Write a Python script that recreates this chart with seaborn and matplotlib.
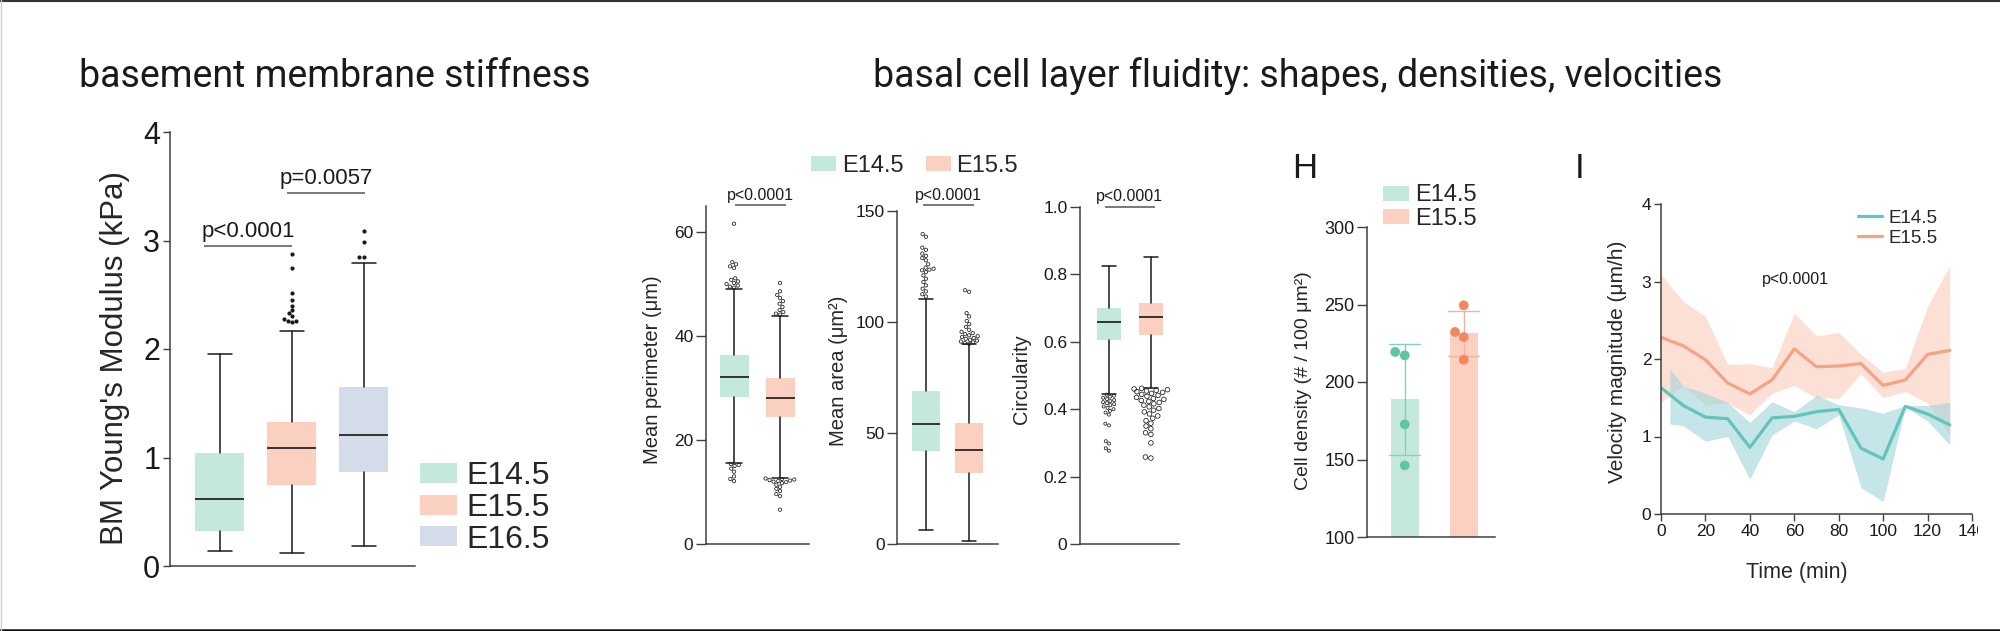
import matplotlib
import numpy as np
import pandas as pd
import seaborn as sns
from matplotlib import pyplot as plt
from matplotlib.lines import Line2D
from matplotlib.patches import Patch, Rectangle

matplotlib.use('agg')

FIG_W, FIG_H = 2000, 631
BODY_FONT = ['Liberation Sans', 'DejaVu Sans']
TITLE_FONT = ['Roboto', 'Liberation Sans', 'DejaVu Sans']

MINT = '#c4e9db'
SALMON = '#fbd0c1'
LAVENDER = '#d4dbe9'
INK = '#1a1a1a'
AXIS = '#404040'

# ---- BM stiffness (box summaries, kPa) ----
bm_stages = ['E14.5', 'E15.5', 'E16.5']
bm_whislo = [0.14, 0.12, 0.18]
bm_q1 = [0.32, 0.75, 0.87]
bm_med = [0.62, 1.085, 1.21]
bm_q3 = [1.04, 1.325, 1.65]
bm_whishi = [1.95, 2.17, 2.79]
bm_fliers_e14 = []
bm_fliers_e15 = [2.25, 2.26, 2.26, 2.28, 2.30, 2.33, 2.36, 2.40, 2.45, 2.52, 2.75, 2.88]
bm_fliers_e16 = [2.85, 2.85, 2.99, 3.09]

# ---- cell shape (box summaries) ----
shape_stages = ['E14.5', 'E15.5']
perim_whislo = [15.5, 12.7]
perim_q1 = [28.2, 24.4]
perim_med = [32.2, 28.1]
perim_q3 = [36.4, 32.0]
perim_whishi = [49.1, 43.9]
perim_fliers_e14 = [49.3, 49.5, 49.7, 50.0, 50.2, 50.5, 50.8, 51.1,
                    53.1, 53.4, 53.8, 54.2, 61.6,
                    15.4, 15.2, 15.0, 14.5, 13.9, 13.0, 12.5, 12.1]
perim_fliers_e15 = [44.1, 44.3, 44.6, 45.0, 45.6, 46.2, 46.7, 47.3, 47.9, 48.6, 50.2,
                    12.6, 12.5, 12.4, 12.3, 12.2, 12.1, 12.0, 11.9, 11.7, 11.4,
                    11.0, 10.6, 10.2, 9.6, 9.2, 6.6]

area_whislo = [6.3, 1.3]
area_q1 = [41.7, 31.8]
area_med = [54.0, 42.3]
area_q3 = [69.0, 54.4]
area_whishi = [110.3, 90.1]
area_fliers_e14 = [111.5, 112.5, 113.8, 115.0, 116.5, 118.0, 119.5, 121.0, 122.5, 123.3, 123.6,
                   124.0, 124.5, 126.0, 127.8, 128.8, 129.8, 130.8, 132.5, 133.5, 138.4, 139.6]
area_fliers_e15 = [90.2, 90.5, 90.8, 91.2, 91.6, 92.0, 92.4, 92.8, 93.2, 93.6, 94.0, 94.5,
                   95.0, 95.6, 96.5, 97.8, 99.0, 100.5, 102.5, 104.0, 113.6, 114.3]

circ_whislo = [0.445, 0.462]
circ_q1 = [0.605, 0.619]
circ_med = [0.659, 0.674]
circ_q3 = [0.700, 0.714]
circ_whishi = [0.824, 0.852]
circ_fliers_e14 = [0.443, 0.44, 0.437, 0.434, 0.43, 0.427, 0.424, 0.421, 0.418, 0.415, 0.412,
                   0.408, 0.404, 0.4, 0.395, 0.39, 0.384, 0.357, 0.352, 0.305, 0.298, 0.284,
                   0.277]
circ_fliers_e15 = [0.462, 0.46, 0.458, 0.456, 0.454, 0.452, 0.45, 0.447, 0.444, 0.441, 0.438,
                   0.435, 0.432, 0.429, 0.426, 0.423, 0.42, 0.416, 0.412, 0.407, 0.402, 0.397,
                   0.392, 0.386, 0.38, 0.373, 0.366, 0.358, 0.35, 0.342, 0.33, 0.325, 0.30,
                   0.258, 0.255]

# ---- cell density (per embryo) ----
density_e14 = [217.2, 219.4, 172.7, 146.2]
density_e15 = [249.5, 232.3, 229.0, 214.4]

# ---- velocity magnitude over time ----
time_min = [0, 10, 20, 30, 40, 50, 60, 70, 80, 90, 100, 110, 120, 130]
vel_e14 = [1.63, 1.40, 1.25, 1.23, 0.86, 1.24, 1.26, 1.32, 1.35, 0.85, 0.71, 1.39, 1.29, 1.15]
vel_e15 = [2.28, 2.17, 1.99, 1.69, 1.55, 1.73, 2.13, 1.90, 1.91, 1.94, 1.66, 1.73, 2.06, 2.11]
band_time_e14 = [4, 10, 20, 30, 40, 50, 60, 70, 80, 90, 100, 110, 120, 130]
band_hi_e14 = [1.88, 1.65, 1.56, 1.44, 1.18, 1.45, 1.32, 1.53, 1.41, 1.37, 1.30, 1.40, 1.40, 1.44]
band_lo_e14 = [1.16, 1.14, 0.94, 1.00, 0.45, 1.02, 1.20, 1.10, 1.28, 0.34, 0.16, 1.38, 1.20, 0.89]
band_time_e15 = [0, 10, 20, 30, 40, 50, 60, 70, 80, 90, 100, 110, 120, 130]
band_hi_e15 = [3.09, 2.74, 2.55, 1.93, 1.94, 1.89, 2.59, 2.30, 2.34, 2.06, 1.83, 1.88, 2.68, 3.20]
band_lo_e15 = [1.44, 1.65, 1.41, 1.43, 1.28, 1.56, 1.66, 1.50, 1.49, 1.81, 1.50, 1.58, 1.43, 1.02]

sns.set_theme(style='ticks')
plt.rcParams['font.family'] = BODY_FONT
plt.rcParams['axes.linewidth'] = 1.1

fig = plt.figure(figsize=(FIG_W / 100, FIG_H / 100), dpi=100)


def add_axes_px(left, top, right, bottom):
    return fig.add_axes([left / FIG_W, 1 - bottom / FIG_H,
                         (right - left) / FIG_W, (bottom - top) / FIG_H])


def style_axis(ax, labelsize, ticklen):
    sns.despine(ax=ax)
    for side in ['left', 'bottom']:
        ax.spines[side].set_color(AXIS)
        ax.spines[side].set_linewidth(1.1)
    ax.tick_params(axis='y', length=ticklen, width=1.0, color=AXIS,
                   labelsize=labelsize, labelcolor=INK, pad=2)
    ax.set_xticks([])
    ax.set_xlabel('')
    ax.grid(False)


def draw_boxes(ax, lo, q1, med, q3, hi, colors, width, capw):
    stats = [dict(whislo=a, q1=b, med=c, q3=d, whishi=e, fliers=[])
             for a, b, c, d, e in zip(lo, q1, med, q3, hi)]
    art = ax.bxp(stats, positions=list(range(len(stats))), widths=width, capwidths=capw,
                 patch_artist=True, showfliers=False, manage_ticks=False,
                 boxprops=dict(linewidth=0),
                 whiskerprops=dict(color=INK, linewidth=1.1),
                 capprops=dict(color=INK, linewidth=1.1),
                 medianprops=dict(color='#333333', linewidth=1.4))
    for patch, c in zip(art['boxes'], colors):
        patch.set_facecolor(c)
        patch.set_edgecolor(c)


def draw_fliers(ax, stages, groups, size, hollow):
    df = pd.DataFrame({'stage': np.repeat(stages, [len(g) for g in groups]),
                       'value': np.concatenate([np.asarray(g, float) for g in groups])})
    n0 = len(ax.collections)
    sns.swarmplot(data=df, x='stage', y='value', order=stages, color=INK, size=size,
                  edgecolor=INK, linewidth=0.55 if hollow else 0, ax=ax, zorder=5,
                  warn_thresh=1.0)
    if hollow:
        for coll in ax.collections[n0:]:
            coll.set_facecolor('none')


def bracket(ax, x0, x1, y, label, size, gap=2):
    ax.plot([x0, x1], [y, y], color='#555555', lw=1.1, clip_on=False,
            solid_capstyle='butt')
    ax.annotate(label, xy=((x0 + x1) / 2, y), xytext=(0, gap), textcoords='offset points',
                ha='center', va='bottom', fontsize=size, color=INK, annotation_clip=False)


# ---------------- panel: BM stiffness ----------------
ax_bm = add_axes_px(170, 132, 415, 566)
draw_boxes(ax_bm, bm_whislo, bm_q1, bm_med, bm_q3, bm_whishi,
           [MINT, SALMON, LAVENDER], 0.68, 0.33)
draw_fliers(ax_bm, bm_stages, [bm_fliers_e14, bm_fliers_e15, bm_fliers_e16], 3.0, False)
ax_bm.set_xlim(-0.69, 2.71)
ax_bm.set_ylim(0, 4)
ax_bm.set_yticks([0, 1, 2, 3, 4])
style_axis(ax_bm, 22, 5)
ax_bm.set_ylabel("BM Young's Modulus (kPa)", fontsize=22.5, va='center')
ax_bm.yaxis.set_label_coords(-0.224, 0.48)
bracket(ax_bm, -0.22, 1.0, 2.95, 'p<0.0001', 16, gap=3)
bracket(ax_bm, 0.94, 2.02, 3.44, 'p=0.0057', 16, gap=3)
ax_bm.legend([Patch(facecolor=c, edgecolor='none') for c in [MINT, SALMON, LAVENDER]],
             bm_stages, loc='center left', bbox_to_anchor=(420 / FIG_W, 1 - 508 / FIG_H),
             bbox_transform=fig.transFigure, frameon=False, fontsize=23,
             handlelength=1.15, handleheight=0.6, handletextpad=0.3,
             labelspacing=0.05, borderpad=0, borderaxespad=0)

# ---------------- panel: perimeter ----------------
ax_pe = add_axes_px(706, 206, 809, 544)
draw_boxes(ax_pe, perim_whislo, perim_q1, perim_med, perim_q3, perim_whishi,
           [MINT, SALMON], 0.63, 0.33)
draw_fliers(ax_pe, shape_stages, [perim_fliers_e14, perim_fliers_e15], 2.4, True)
ax_pe.set_xlim(-0.61, 1.63)
ax_pe.set_ylim(0, 65)
ax_pe.set_yticks([0, 20, 40, 60])
style_axis(ax_pe, 12.5, 7)
ax_pe.set_ylabel('Mean perimeter (μm)', fontsize=14.5, va='center')
ax_pe.yaxis.set_label_coords(-0.52, 0.515)
bracket(ax_pe, 0.02, 1.13, 65.2, 'p<0.0001', 11.5, gap=1.5)

# ---------------- panel: area ----------------
ax_ar = add_axes_px(897, 211, 998, 544)
draw_boxes(ax_ar, area_whislo, area_q1, area_med, area_q3, area_whishi,
           [MINT, SALMON], 0.65, 0.33)
draw_fliers(ax_ar, shape_stages, [area_fliers_e14, area_fliers_e15], 2.4, True)
ax_ar.set_xlim(-0.67, 1.67)
ax_ar.set_ylim(0, 150)
ax_ar.set_yticks([0, 50, 100, 150])
style_axis(ax_ar, 12.5, 7)
ax_ar.set_ylabel('Mean area (μm²)', fontsize=14.5, va='center')
ax_ar.yaxis.set_label_coords(-0.58, 0.52)
bracket(ax_ar, -0.07, 1.12, 152.7, 'p<0.0001', 11.5, gap=1.5)

# ---------------- panel: circularity ----------------
ax_ci = add_axes_px(1080, 207, 1179, 544)
draw_boxes(ax_ci, circ_whislo, circ_q1, circ_med, circ_q3, circ_whishi,
           [MINT, SALMON], 0.58, 0.33)
draw_fliers(ax_ci, shape_stages, [circ_fliers_e14, []], 2.2, True)
draw_fliers(ax_ci, shape_stages, [[], circ_fliers_e15], 3.3, True)
ax_ci.set_xlim(-0.69, 1.67)
ax_ci.set_ylim(0, 1.0)
ax_ci.set_yticks([0, 0.2, 0.4, 0.6, 0.8, 1.0], ['0', '0.2', '0.4', '0.6', '0.8', '1.0'])
style_axis(ax_ci, 12.5, 7)
ax_ci.set_ylabel('Circularity', fontsize=14.5, va='center')
ax_ci.yaxis.set_label_coords(-0.59, 0.49)
bracket(ax_ci, -0.1, 1.1, 1.0, 'p<0.0001', 11.5, gap=2)

ax_pe.legend([Patch(facecolor=c, edgecolor='none') for c in [MINT, SALMON]], shape_stages,
             loc='center left', bbox_to_anchor=(811 / FIG_W, 1 - 166 / FIG_H),
             bbox_transform=fig.transFigure, ncol=2, frameon=False, fontsize=17,
             handlelength=1.05, handleheight=0.6, handletextpad=0.25, columnspacing=0.95,
             borderpad=0, borderaxespad=0)

# ---------------- panel H: cell density ----------------
ax_h = add_axes_px(1367, 227, 1495, 537)
dens_df = pd.DataFrame({'stage': ['E14.5'] * len(density_e14) + ['E15.5'] * len(density_e15),
                        'density': density_e14 + density_e15})
sns.barplot(data=dens_df, x='stage', y='density', hue='stage', palette=[MINT, SALMON],
            errorbar='sd', capsize=0.53, width=0.48, saturation=1, linewidth=0,
            err_kws={'linewidth': 1.0}, legend=False, ax=ax_h)
for ln in ax_h.lines:
    xs = np.asarray(ln.get_xdata(), dtype=float)
    ln.set_color('#7ed3c7' if np.nanmean(xs) < 0.5 else '#f6b49c')
sns.swarmplot(data=dens_df, x='stage', y='density', hue='stage',
              palette=['#5ec6a1', '#f4875f'], size=7, legend=False, ax=ax_h, zorder=5)
ax_h.set_xlim(-0.64, 1.53)
ax_h.set_ylim(100, 300)
ax_h.set_yticks([100, 150, 200, 250, 300])
style_axis(ax_h, 13, 7)
ax_h.set_ylabel('Cell density (# / 100 μm²)', fontsize=14, va='center')
ax_h.yaxis.set_label_coords(-0.5, 0.506)
ax_h.legend([Patch(facecolor=c, edgecolor='none') for c in [MINT, SALMON]], shape_stages,
            loc='center left', bbox_to_anchor=(1383 / FIG_W, 1 - 207 / FIG_H),
            bbox_transform=fig.transFigure, frameon=False, fontsize=17,
            handlelength=1.1, handleheight=0.6, handletextpad=0.25,
            labelspacing=0.05, borderpad=0, borderaxespad=0)

# ---------------- panel I: velocity ----------------
ax_i = add_axes_px(1661, 204, 1972, 514)
ax_i.fill_between(band_time_e15, band_lo_e15, band_hi_e15, color='#fbd6c9', alpha=0.75, lw=0)
ax_i.fill_between(band_time_e14, band_lo_e14, band_hi_e14, color='#9fd5da', alpha=0.6, lw=0)
vel_df = pd.DataFrame({'time': time_min * 2, 'velocity': vel_e14 + vel_e15,
                       'stage': ['E14.5'] * len(vel_e14) + ['E15.5'] * len(vel_e15)})
sns.lineplot(data=vel_df, x='time', y='velocity', hue='stage',
             palette=['#63c5b9', '#f6a283'], linewidth=2.3, errorbar=None, ax=ax_i,
             legend=False)
ax_i.set_xlim(0, 140)
ax_i.set_ylim(0, 4)
ax_i.set_yticks([0, 1, 2, 3, 4])
ax_i.set_xticks(range(0, 141, 20))
sns.despine(ax=ax_i)
for side in ['left', 'bottom']:
    ax_i.spines[side].set_color(AXIS)
    ax_i.spines[side].set_linewidth(1.1)
ax_i.tick_params(length=5, width=1.0, color=AXIS, labelsize=12.5, labelcolor=INK, pad=2)
ax_i.set_ylabel('Velocity magnitude (μm/h)', fontsize=15, va='center')
ax_i.yaxis.set_label_coords(-0.14, 0.49)
ax_i.set_xlabel('Time (min)', fontsize=15.5, va='center')
ax_i.xaxis.set_label_coords(0.437, -0.19)
ax_i.text(60.7, 3.02, 'p<0.0001', ha='center', va='center', fontsize=11.5, color=INK)
ax_i.legend([Line2D([], [], color='#63c5b9', lw=2.3), Line2D([], [], color='#f6a283', lw=2.3)],
            shape_stages, loc='center left', bbox_to_anchor=(1858 / FIG_W, 1 - 228 / FIG_H),
            bbox_transform=fig.transFigure, frameon=False, fontsize=13.5,
            handlelength=1.3, handletextpad=0.35, labelspacing=0.15,
            borderpad=0, borderaxespad=0)

# ---------------- titles and panel letters ----------------
fig.text(335 / FIG_W, 1 - 87 / FIG_H, 'basement membrane stiffness', ha='center',
         va='baseline', fontsize=27, family=TITLE_FONT, color=INK)
fig.text(1298 / FIG_W, 1 - 87 / FIG_H, 'basal cell layer fluidity: shapes, densities, velocities',
         ha='center', va='baseline', fontsize=27, family=TITLE_FONT, color=INK)
fig.text(1292 / FIG_W, 1 - 178 / FIG_H, 'H', ha='left', va='baseline', fontsize=25, color=INK)
fig.text(1575 / FIG_W, 1 - 178 / FIG_H, 'I', ha='left', va='baseline', fontsize=25, color=INK)

# the source panel is cropped just past the last time tick
fig.patches.append(Rectangle((1978 / FIG_W, 1 - 560 / FIG_H), 22 / FIG_W, 40 / FIG_H,
                             transform=fig.transFigure, facecolor='white', edgecolor='none',
                             zorder=10))
# thin frame lines of the original screenshot
fig.add_artist(Line2D([0, 1], [1 - 0.8 / FIG_H] * 2, transform=fig.transFigure,
                      color='#333333', lw=1.5, zorder=11))
fig.add_artist(Line2D([0, 1], [1.5 / FIG_H] * 2, transform=fig.transFigure,
                      color='#111111', lw=1.8, zorder=11))
fig.add_artist(Line2D([1 / FIG_W] * 2, [0, 1], transform=fig.transFigure,
                      color='#cccccc', lw=1.0, zorder=11))

fig.savefig('out.png', dpi=100)
plt.close(fig)
